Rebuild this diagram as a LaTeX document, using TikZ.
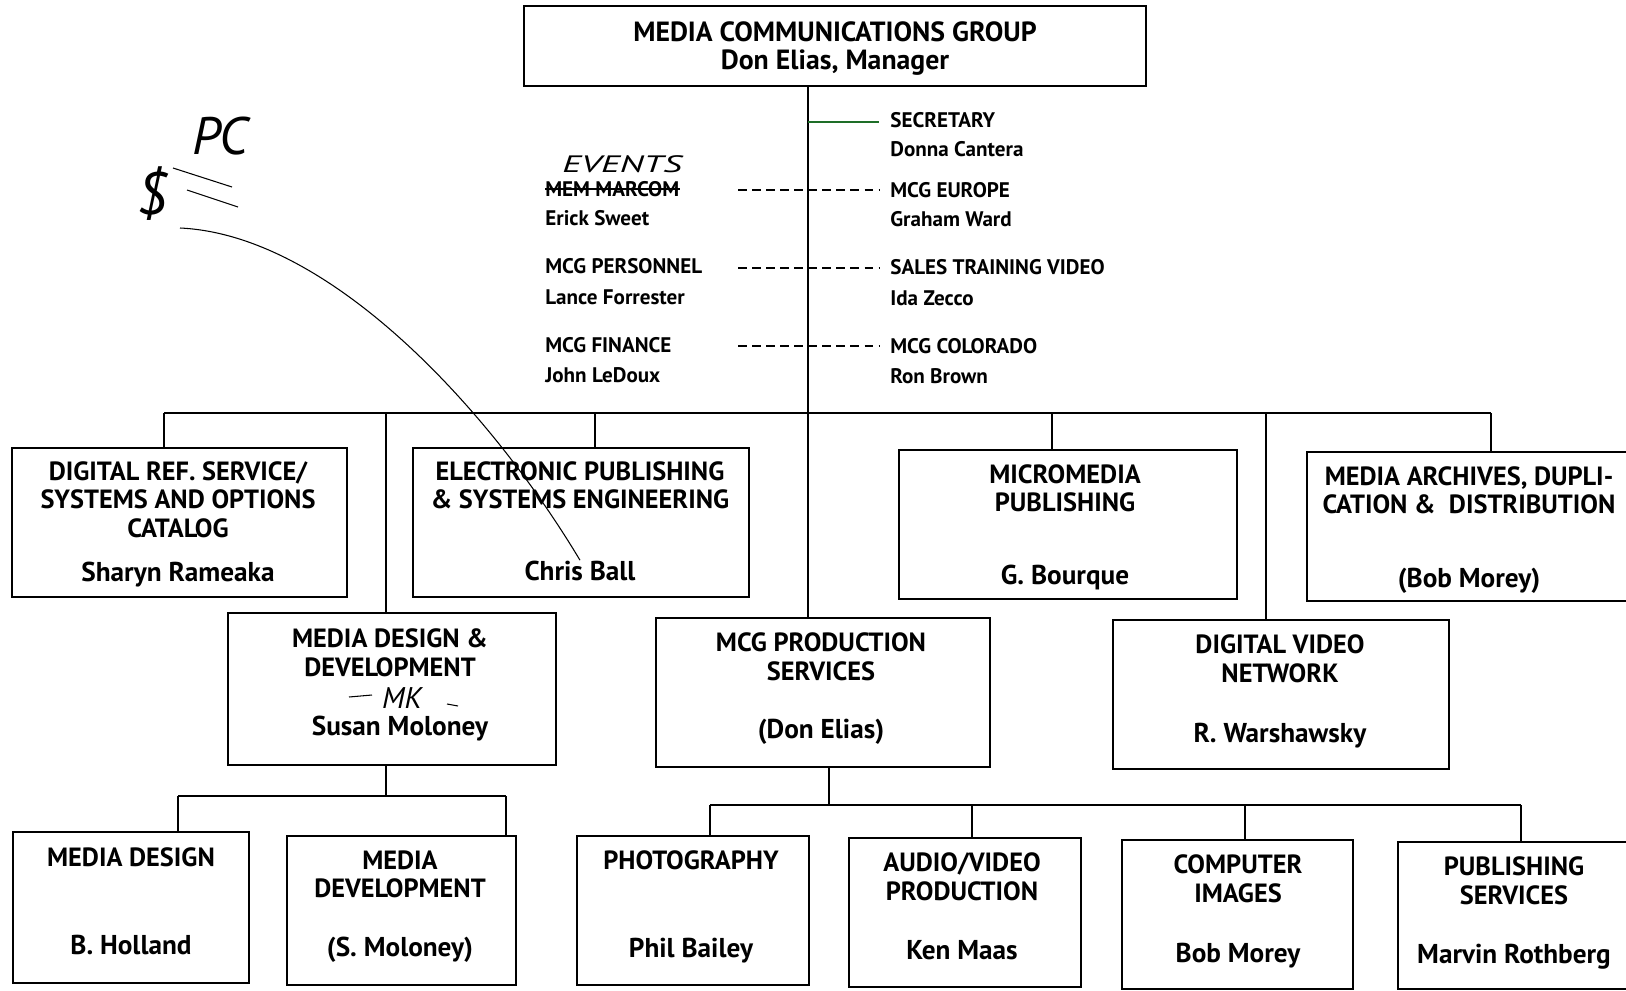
\documentclass[tikz,border=0pt]{standalone}
\usepackage{fontspec}
\setmainfont{PT Sans}
\usetikzlibrary{positioning,fit,calc}
\definecolor{secgreen}{RGB}{30,110,40}

\begin{document}
\begin{tikzpicture}[x=0.2mm,y=-0.2mm,
 unit/.style={draw,line width=1.1pt,inner sep=0pt},
 head/.style={font=\fontsize{15}{16.4}\selectfont\bfseries,align=center,inner sep=0pt,anchor=north},
 who/.style={font=\fontsize{15.5}{16.4}\selectfont\bfseries,inner sep=0pt,anchor=base},
 small/.style={font=\fontsize{12}{13}\selectfont\bfseries,inner sep=0pt,anchor=base west},
 edge/.style={line width=1.1pt},
 dotline/.style={line width=1.1pt,dash pattern=on 5pt off 3pt},
 hand/.style={font=\itshape,inner sep=0pt},
 pen/.style={line width=0.6pt}]
\useasboundingbox (0,0) rectangle (1626,990);

\node[unit,fit={(524,6) (1146,86)}] (top) {};
\node[unit,fit={(12,448) (347,597)}] (dref) {};
\node[unit,fit={(413,448) (749,597)}] (epub) {};
\node[unit,fit={(899,450) (1237,599)}] (micro) {};
\node[unit,fit={(1307,452) (1660,601)}] (arch) {};
\node[unit,fit={(228,613) (556,765)}] (mdd) {};
\node[unit,fit={(656,618) (990,767)}] (prod) {};
\node[unit,fit={(1113,620) (1449,769)}] (dvn) {};
\node[unit,fit={(13,832) (249,983)}] (mdes) {};
\node[unit,fit={(287,836) (516,985)}] (mdev) {};
\node[unit,fit={(577,836) (809,985)}] (photo) {};
\node[unit,fit={(849,838) (1081,987)}] (av) {};
\node[unit,fit={(1122,840) (1353,989)}] (comp) {};
\node[unit,fit={(1398,842) (1660,989)}] (pub) {};

\node[head,font=\fontsize{15.8}{16.4}\selectfont\bfseries] (top-t) at (835,21) {MEDIA COMMUNICATIONS GROUP\\Don Elias, Manager};
\node[head] (dref-t) at (178,461) {DIGITAL REF. SERVICE/\\SYSTEMS AND OPTIONS\\CATALOG};
\node[who] (dref-n) at (178,581) {Sharyn Rameaka};
\node[head] (epub-t) at (580,461) {ELECTRONIC PUBLISHING\\\& SYSTEMS ENGINEERING};
\node[who] (epub-n) at (580,580) {Chris Ball};
\node[head] (micro-t) at (1065,464) {MICROMEDIA\\PUBLISHING};
\node[who] (micro-n) at (1065,584) {G. Bourque};
\node[head] (arch-t) at (1469,466) {MEDIA ARCHIVES, DUPLI-\\CATION \&\ \ DISTRIBUTION};
\node[who] (arch-n) at (1469,587) {(Bob Morey)};
\node[head] (mdd-t) at (390,628) {MEDIA DESIGN \&\\DEVELOPMENT};
\node[who] (mdd-n) at (400,735) {Susan Moloney};
\node[head] (prod-t) at (821,632) {MCG PRODUCTION\\SERVICES};
\node[who] (prod-n) at (821,738) {(Don Elias)};
\node[head] (dvn-t) at (1280,634) {DIGITAL VIDEO\\NETWORK};
\node[who] (dvn-n) at (1280,742) {R. Warshawsky};
\node[head] (mdes-t) at (131,847) {MEDIA DESIGN};
\node[who] (mdes-n) at (131,954) {B. Holland};
\node[head] (mdev-t) at (400,850) {MEDIA\\DEVELOPMENT};
\node[who] (mdev-n) at (400,956) {(S. Moloney)};
\node[head] (photo-t) at (691,850) {PHOTOGRAPHY};
\node[who] (photo-n) at (691,957) {Phil Bailey};
\node[head] (av-t) at (962,852) {AUDIO/VIDEO\\PRODUCTION};
\node[who] (av-n) at (962,959) {Ken Maas};
\node[head] (comp-t) at (1238,854) {COMPUTER\\IMAGES};
\node[who] (comp-n) at (1238,962) {Bob Morey};
\node[head] (pub-t) at (1514,856) {PUBLISHING\\SERVICES};
\node[who] (pub-n) at (1514,963) {Marvin Rothberg};

\node[small] (sec) at (890,127) {SECRETARY};
\node[small] (sec-n) at (890,156) {Donna Cantera};
\node[small] (eur) at (890,197) {MCG EUROPE};
\node[small] (eur-n) at (890,226) {Graham Ward};
\node[small] (stv) at (890,274) {SALES TRAINING VIDEO};
\node[small] (stv-n) at (890,305) {Ida Zecco};
\node[small] (col) at (890,353) {MCG COLORADO};
\node[small] (col-n) at (890,383) {Ron Brown};
\node[small] (mem) at (545,196) {MEM MARCOM};
\node[small] (mem-n) at (545,225) {Erick Sweet};
\node[small] (pers) at (545,273) {MCG PERSONNEL};
\node[small] (pers-n) at (545,304) {Lance Forrester};
\node[small] (fin) at (545,352) {MCG FINANCE};
\node[small] (fin-n) at (545,382) {John LeDoux};

\coordinate (trunk) at (808,413);
\coordinate (bus w) at (164,413);
\coordinate (bus e) at (1491,413);
\coordinate (b2) at (386,413);
\coordinate (b3) at (595,413);
\coordinate (b5) at (1052,413);
\coordinate (b6) at (1266,413);
\coordinate (secj) at (808,122);
\coordinate (dl1) at (738,190);
\coordinate (dl2) at (738,268);
\coordinate (dl3) at (738,346);
\coordinate (mj) at (386,796);
\coordinate (mj w) at (178,796);
\coordinate (mj e) at (506,796);
\coordinate (pj) at (829,805);
\coordinate (pj w) at (710,805);
\coordinate (pj e) at (1521,805);
\coordinate (pj2) at (972,805);
\coordinate (pj3) at (1245,805);

\draw [edge] (top.south -| trunk) -- (prod.north -| trunk);
\draw [edge] (bus w) -- (bus e);
\draw [edge] (bus w) -- (bus w |- dref.north);
\draw [edge] (b2) -- (b2 |- mdd.north);
\draw [edge] (b3) -- (b3 |- epub.north);
\draw [edge] (b5) -- (b5 |- micro.north);
\draw [edge] (b6) -- (b6 |- dvn.north);
\draw [edge] (bus e) -- (bus e |- arch.north);
\draw [edge,secgreen] (secj) -- ($(sec.west |- secj)+(-11,0)$);
\draw [dotline] (dl1) -- ($(eur.west |- dl1)+(-11,0)$);
\draw [dotline] (dl2) -- ($(stv.west |- dl2)+(-11,0)$);
\draw [dotline] (dl3) -- ($(col.west |- dl3)+(-11,0)$);
\draw [edge] (mdd.south -| mj) -- (mj);
\draw [edge] (mj w) -- (mj e);
\draw [edge] (mj w) -- (mj w |- mdes.north);
\draw [edge] (mj e) -- (mj e |- mdev.north);
\draw [edge] (prod.south -| pj) -- (pj);
\draw [edge] (pj w) -- (pj e);
\draw [edge] (pj w) -- (pj w |- photo.north);
\draw [edge] (pj2) -- (pj2 |- av.north);
\draw [edge] (pj3) -- (pj3 |- comp.north);
\draw [edge] (pj e) -- (pj e |- pub.north);

\draw [pen] (mem.west |- 0,189) -- (mem.east |- 0,189);
\node[hand,font=\fontsize{15}{15}\selectfont\itshape] (events) at (622,164) {\scalebox{1.4}[0.9]{EVENTS}};
\node[hand,font=\fontsize{30}{30}\selectfont\itshape] (pc) at (220,136) {PC};
\node[hand,font=\fontsize{34}{34}\selectfont\itshape] (dollar) at (152,194) {\$};
\draw [pen] (173,168) -- (232,187);
\draw [pen] (187,190) -- (238,207);
\draw [pen] (180,228) .. controls (330,235) and (490,410) .. (epub-n.north);
\node[hand,font=\fontsize{17}{17}\selectfont\itshape] (mk) at (402,698) {MK};
\draw [pen] (349,697) -- (372,695);
\draw [pen] (447,704) -- (458,706);
\end{tikzpicture}
\end{document}
